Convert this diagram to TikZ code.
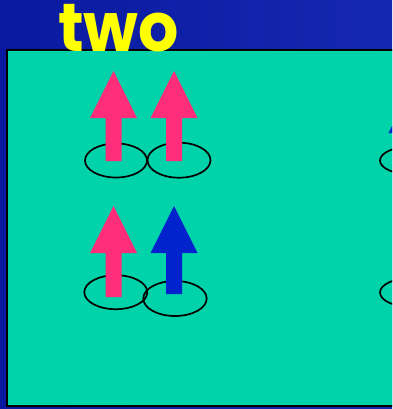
\documentclass[tikz,border=0pt]{standalone}
\usepackage{fontspec}
\newfontfamily\titlefont{Poppins}[UprightFont=* Bold]
\definecolor{navy}{RGB}{10,26,160}
\definecolor{navylight}{RGB}{20,40,175}
\definecolor{teal2}{RGB}{0,210,170}
\definecolor{pinkup}{RGB}{255,45,122}
\definecolor{blueup}{RGB}{0,35,205}
\definecolor{titleyellow}{RGB}{255,255,0}
\tikzset{
  orbit/.style={draw=black,line width=1.7pt,fill=none},
  spinbox/.style={draw=black,line width=1.8pt,fill=teal2},
  titletext/.style={text=titleyellow,font=\titlefont\fontsize{68}{68}\selectfont,inner sep=0pt,anchor=base west,xscale=0.93}
}
% \spinarrow{x}{tipy}{bottomy}{color}
\newcommand{\spinarrow}[4]{%
  \fill[#4] (#1-8,#3) -- (#1-8,#2+47) -- (#1-23.5,#2+47) -- (#1,#2) -- (#1+23.5,#2+47) -- (#1+8,#2+47) -- (#1+8,#3) -- cycle;}
\begin{document}
\begin{tikzpicture}[x=1pt,y=-1pt]
\useasboundingbox (0,0) rectangle (392,409);
\begin{scope}
\clip (0,0) rectangle (392,409);
\shade[left color=navy,right color=navylight] (0,0) rectangle (392,409);
\draw[spinbox] (7,50) rectangle (400,406);
% title
\node[titletext] (title) at (58,52) {two};
% top row
\draw[orbit] (116,160.5) ellipse [x radius=31,y radius=17];
\draw[orbit] (179,160.2) ellipse [x radius=31.5,y radius=17.5];
\spinarrow{113.5}{71}{161}{pinkup}
\spinarrow{174}{71}{161}{pinkup}
% bottom row
\draw[orbit] (115.8,292.2) ellipse [x radius=31.5,y radius=17];
\draw[orbit] (175,298.5) ellipse [x radius=31.7,y radius=17.5];
\spinarrow{113.5}{206}{297}{pinkup}
\spinarrow{174}{206}{294}{blueup}
% right edge (cut off)
\draw[orbit] (411.5,160.5) ellipse [x radius=31.5,y radius=14];
\draw[orbit] (411.5,292.5) ellipse [x radius=31.5,y radius=14.5];
\spinarrow{412}{86}{161}{blueup}
\end{scope}
\end{tikzpicture}
\end{document}
